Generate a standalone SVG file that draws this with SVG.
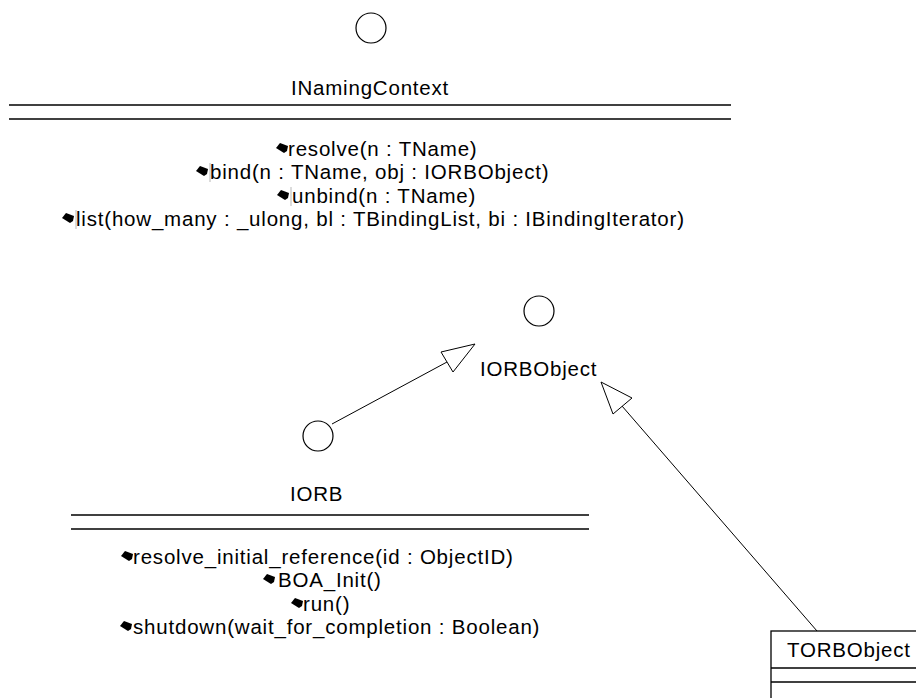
<svg xmlns="http://www.w3.org/2000/svg" width="916" height="698" viewBox="0 0 916 698">
<style>
text{font-family:"Liberation Sans",Arial,sans-serif;font-size:20.5px;letter-spacing:0.8px;fill:#000}
.ln{stroke:#000;stroke-width:1.3;fill:none}
.ci{stroke:#000;stroke-width:1.2;fill:#fff}
.ar{stroke:#000;stroke-width:1;fill:#fff}
.cn{stroke:#000;stroke-width:1;fill:none}
.bar{stroke:#cfcfcf;stroke-width:1.5}
</style>
<defs>
<path id="op" d="M0,1 L4,-4 L12,-1 L11,4 L8,6 Z" fill="#000"/>
</defs>
<rect width="916" height="698" fill="#fff"/>

<g id="connectors">
<line class="cn" x1="332" y1="424" x2="447" y2="362"/>
<polygon class="ar" points="475,344 441,352 453,372"/>
<line class="cn" x1="817" y1="631" x2="622" y2="406"/>
<polygon class="ar" points="601,382 632,398 613,414"/>
</g>

<g id="INamingContext">
<circle class="ci" cx="371" cy="28" r="15"/>
<text x="370" y="95" text-anchor="middle">INamingContext</text>
<line class="ln" x1="9" y1="105" x2="731" y2="105"/>
<line class="ln" x1="9" y1="119" x2="731" y2="119"/>
<use href="#op" x="276" y="147"/><text x="288" y="156">resolve(n : TName)</text>
<use href="#op" x="196" y="170"/><line class="bar" x1="210" y1="163" x2="210" y2="182"/><text x="210" y="179">bind(n : TName, obj : IORBObject)</text>
<use href="#op" x="277" y="194"/><line class="bar" x1="291" y1="187" x2="291" y2="206"/><text x="292" y="203">unbind(n : TName)</text>
<use href="#op" x="62" y="217"/><line class="bar" x1="76" y1="210" x2="76" y2="229"/><text x="76" y="226">list(how_many : _ulong, bl : TBindingList, bi : IBindingIterator)</text>
</g>

<g id="IORBObject">
<circle class="ci" cx="539" cy="311" r="15"/>
<text x="480" y="376">IORBObject</text>
</g>

<g id="IORB">
<circle class="ci" cx="318" cy="436" r="15"/>
<text x="290" y="501">IORB</text>
<line class="ln" x1="71" y1="515" x2="589" y2="515"/>
<line class="ln" x1="71" y1="529" x2="589" y2="529"/>
<use href="#op" x="121" y="555"/><text x="133" y="564">resolve_initial_reference(id : ObjectID)</text>
<use href="#op" x="263" y="578"/><text x="278" y="587">BOA_Init()</text>
<use href="#op" x="291" y="602"/><text x="303" y="611">run()</text>
<use href="#op" x="120" y="625"/><text x="133" y="634">shutdown(wait_for_completion : Boolean)</text>
</g>

<g id="TORBObject">
<rect x="771" y="631" width="160" height="80" class="ln" fill="#fff"/>
<text x="787" y="657">TORBObject</text>
<line class="ln" x1="771" y1="668" x2="916" y2="668"/>
<line class="ln" x1="771" y1="682" x2="916" y2="682"/>
</g>
</svg>
